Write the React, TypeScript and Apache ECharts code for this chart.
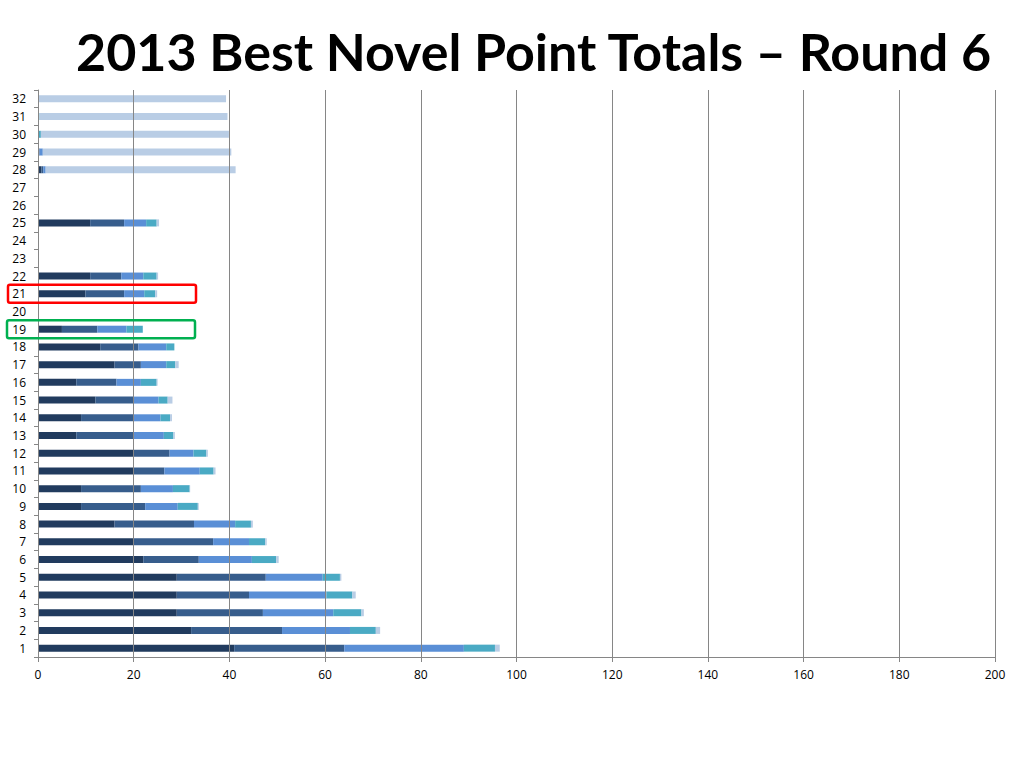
import React, { useEffect, useRef } from "react";
import * as echarts from "echarts";

const categories = Array.from({ length: 32 }, (_, i) => String(i + 1));

// stacked segments per category (1..32)
const seriesA = [41, 32, 29, 29, 29, 22, 20, 16, 9, 9, 20, 20, 8, 9, 12, 8, 16, 13, 5, 0, 9.9, 10.9, 0, 0, 10.9, 0, 0, 0.7, 0.3, 0, 0, 0];
const seriesB = [23, 19, 18, 15.1, 18.6, 11.6, 16.6, 16.6, 13.4, 12.5, 6.4, 7.5, 12, 11, 8, 8.4, 5.5, 8, 7.4, 0, 8.1, 6.5, 0, 0, 7.1, 0, 0, 0.4, 0, 0, 0, 0];
const seriesC = [25, 14.2, 14.7, 16.2, 11.9, 11.1, 7.5, 8.6, 6.8, 6.7, 7.4, 5.0, 6.3, 5.6, 5.2, 5.1, 5.3, 5.8, 6.1, 0, 4.2, 4.6, 0, 0, 4.6, 0, 0, 0.5, 0.7, 0, 0, 0];
const seriesD = [6.5, 5.4, 5.9, 5.4, 3.6, 5.1, 3.4, 3.3, 4.2, 3.5, 2.9, 2.7, 2.0, 2.0, 1.9, 3.3, 1.9, 1.7, 3.4, 0, 2.3, 2.8, 0, 0, 2.2, 0, 0, 0, 0, 0.6, 0.3, 0];
const seriesE = [1.0, 0.9, 0.5, 0.7, 0.3, 0.5, 0.3, 0.4, 0.2, 0.1, 0.4, 0.3, 0.3, 0.4, 1.0, 0.2, 0.7, 0, 0, 0, 0.4, 0.3, 0, 0, 0.5, 0, 0, 39.7, 39.4, 39.3, 39.3, 39.3];

const seriesList = [
  { name: "A", data: seriesA, color: "#213b5e" },
  { name: "B", data: seriesB, color: "#375d8c" },
  { name: "C", data: seriesC, color: "#5a8fd6" },
  { name: "D", data: seriesD, color: "#4aaac4" },
  { name: "E", data: seriesE, color: "#b9cde5" },
];

const xTicks = { min: 0, max: 200, interval: 20 };
const redCategory = "21";
const greenCategory = "19";

const FONT = "'Open Sans', 'Liberation Sans', sans-serif";

export default function App() {
  const ref = useRef<HTMLDivElement>(null);

  useEffect(() => {
    if (!ref.current) return;
    const chart = echarts.init(ref.current, undefined, { renderer: "svg" });
    const option: any = {
      animation: false,
      backgroundColor: "#ffffff",
      title: {
        text: "2013 Best Novel Point Totals \u2013 Round 6",
        left: 71,
        top: 20,
        textStyle: {
          fontFamily: "Lato, 'Open Sans', sans-serif",
          fontWeight: "bold",
          fontSize: 52,
          color: "#000000",
        },
      },
      grid: { left: 38, right: 29, top: 90, bottom: 111, containLabel: false },
      xAxis: {
        type: "value",
        min: xTicks.min,
        max: xTicks.max,
        interval: xTicks.interval,
        z: 3,
        axisLine: { show: true, lineStyle: { color: "#868686", width: 1 } },
        axisTick: { show: true, length: 5, lineStyle: { color: "#868686" } },
        axisLabel: { color: "#000000", fontSize: 12, fontFamily: FONT, margin: 11 },
        splitLine: { show: true, lineStyle: { color: "#868686", width: 1 } },
      },
      yAxis: {
        type: "category",
        data: categories,
        axisLine: { show: true, lineStyle: { color: "#868686", width: 1 } },
        axisTick: { show: true, length: 4, alignWithLabel: false, lineStyle: { color: "#868686" } },
        axisLabel: { color: "#000000", fontSize: 12, fontFamily: FONT, margin: 12 },
        splitLine: { show: false },
      },
      series: seriesList.map((s) => ({
        name: s.name,
        type: "bar",
        stack: "total",
        data: s.data,
        barWidth: 7,
        itemStyle: { color: s.color },
        emphasis: { disabled: true },
      })),
    };
    chart.setOption(option);

    const rYRed = chart.convertToPixel({ yAxisIndex: 0 }, redCategory) as number;
    const rYGreen = chart.convertToPixel({ yAxisIndex: 0 }, greenCategory) as number;
    chart.setOption({
      graphic: [
        {
          type: "rect",
          z: 100,
          shape: { x: 8, y: rYRed - 9, width: 188, height: 18, r: 2 },
          style: { fill: "none", stroke: "#ff0000", lineWidth: 2.5 },
        },
        {
          type: "rect",
          z: 100,
          shape: { x: 7, y: rYGreen - 9, width: 188, height: 18, r: 2 },
          style: { fill: "none", stroke: "#00b050", lineWidth: 2.5 },
        },
      ],
    });

    return () => chart.dispose();
  }, []);

  return (
    <div
      ref={ref}
      style={{ position: "absolute", left: 0, top: 0, width: 1024, height: 768, background: "#fff" }}
    />
  );
}
